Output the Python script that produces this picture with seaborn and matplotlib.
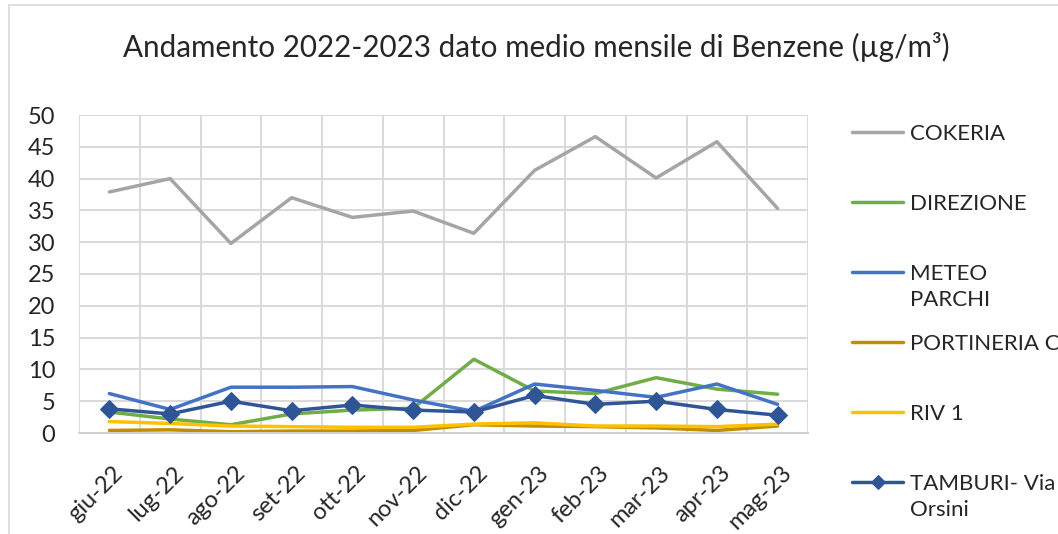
import numpy as np
import pandas as pd
import matplotlib
matplotlib.use('Agg')
import matplotlib.pyplot as plt
import matplotlib.transforms as mtransforms
from matplotlib.patches import Rectangle
import seaborn as sns

# monthly mean benzene values (ug/m3)
mesi = ['giu-22', 'lug-22', 'ago-22', 'set-22', 'ott-22', 'nov-22',
        'dic-22', 'gen-23', 'feb-23', 'mar-23', 'apr-23', 'mag-23']
cokeria = [37.9, 40.0, 29.8, 37.0, 33.9, 34.9, 31.4, 41.3, 46.6, 40.1, 45.8, 35.3]
direzione = [3.3, 2.2, 1.3, 3.0, 3.6, 3.9, 11.6, 6.6, 6.2, 8.7, 6.9, 6.1]
meteo_parchi = [6.2, 3.7, 7.2, 7.2, 7.3, 5.2, 3.4, 7.7, 6.7, 5.6, 7.7, 4.5]
portineria = [0.4, 0.5, 0.2, 0.3, 0.3, 0.4, 1.3, 1.1, 1.0, 0.8, 0.4, 1.1]
riv1 = [1.8, 1.5, 1.1, 1.0, 0.9, 0.9, 1.4, 1.6, 1.1, 1.1, 1.0, 1.4]
tamburi = [3.8, 3.0, 5.0, 3.5, 4.4, 3.6, 3.3, 5.9, 4.5, 5.0, 3.7, 2.8]

serie = [
    ('COKERIA', cokeria, '#a5a5a5'),
    ('DIREZIONE', direzione, '#70ad47'),
    ('METEO', meteo_parchi, '#4472c4'),
    ('PORTINERIA C', portineria, '#bf8f00'),
    ('RIV 1', riv1, '#ffc000'),
    ('TAMBURI- Via', tamburi, '#2f5597'),
]

sns.set_style('white')
plt.rcParams['font.family'] = ['Lato', 'DejaVu Sans']

fig = plt.figure(figsize=(10.58, 5.34), dpi=100)
ax = fig.add_axes([79 / 1058, 1 - 433 / 534, 729 / 1058, 318 / 534])

x = np.arange(len(mesi))
for nome, valori, colore in serie:
    if nome.startswith('TAMBURI'):
        sns.lineplot(x=x, y=valori, ax=ax, color=colore, linewidth=2.5,
                     marker='D', markersize=9, markeredgecolor=colore, label=nome)
    else:
        sns.lineplot(x=x, y=valori, ax=ax, color=colore, linewidth=2.5, label=nome)

ax.set_xlim(-0.5, len(mesi) - 0.5)
ax.set_ylim(0, 50)
ax.set_yticks(range(0, 51, 5))
ax.set_xticks(x)
ax.set_xticks(np.arange(-0.5, len(mesi), 1), minor=True)
ax.set_xticklabels(mesi, rotation=45, ha='right', va='top', rotation_mode='anchor')
ax.tick_params(axis='both', which='both', length=0, labelcolor='#262626')
ax.tick_params(axis='y', labelsize=17, pad=17)
ax.tick_params(axis='x', labelsize=17, pad=21)
offset = mtransforms.ScaledTranslation(3 / 100, 0, fig.dpi_scale_trans)
for lab in ax.get_xticklabels():
    lab.set_transform(lab.get_transform() + offset)

ax.grid(axis='y', which='major', color='#d9d9d9', linewidth=1.4)
ax.grid(axis='x', which='minor', color='#d9d9d9', linewidth=1.4)
ax.grid(axis='x', which='major', visible=False)
for s in ['top', 'right', 'left']:
    ax.spines[s].set_visible(False)
ax.spines['bottom'].set_color('#d0d0d0')
ax.spines['bottom'].set_linewidth(1.4)
ax.set_axisbelow(True)
ax.set_xlabel('')
ax.set_ylabel('')

handles, labels = ax.get_legend_handles_labels()
ax.get_legend().remove()
leg = fig.legend(handles, labels, loc='upper left', bbox_to_anchor=(852 / 1058, 1 - 124 / 534),
                 frameon=False, fontsize=16, handlelength=2.3, handletextpad=0.3,
                 labelspacing=2.25, borderpad=0, borderaxespad=0, labelcolor='#262626',
                 markerscale=0.75)

fig.text(0.507, 1 - 47 / 534, 'Andamento 2022-2023 dato medio mensile di Benzene (µg/m³)',
         ha='center', va='center', fontsize=21.3, color='#262626')

# chart frame
fig.patches.append(Rectangle((9 / 1058, -0.2), 1.2, 1.2 - 5 / 534, transform=fig.transFigure,
                             fill=False, edgecolor='#d9d9d9', linewidth=1.2))

# second lines of the wrapped legend labels
fig.canvas.draw()
testi = leg.get_texts()
for idx, riga in [(2, 'PARCHI'), (5, 'Orsini')]:
    bb = testi[idx].get_window_extent()
    fig.text(bb.x0 / fig.bbox.width, (bb.y0 - 22) / fig.bbox.height, riga,
             ha='left', va='baseline', fontsize=16, color='#262626')

fig.savefig('out.png', dpi=100)
